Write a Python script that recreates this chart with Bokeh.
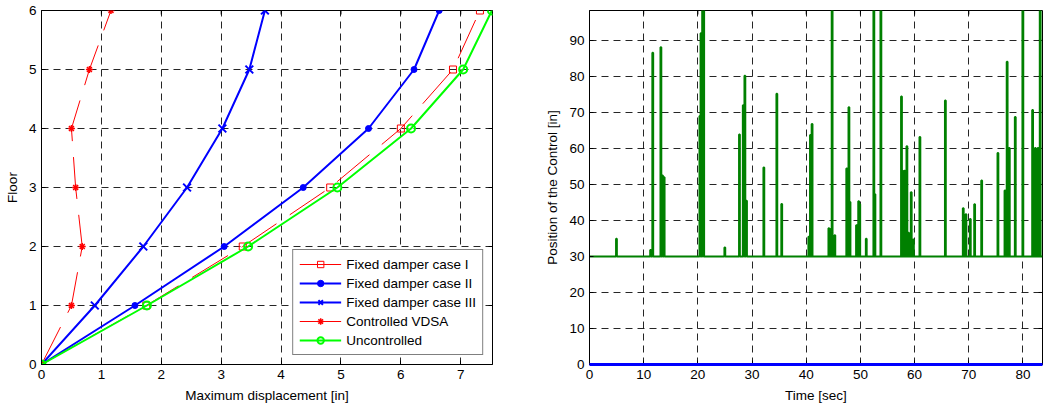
import math
from bokeh.plotting import figure
from bokeh.layouts import row
from bokeh.models import Range1d, FixedTicker, Legend, LegendItem
from bokeh.embed import file_html
from bokeh.resources import INLINE

# ---------------- data: left panel (max displacement per floor) ----------------
floors = [0, 1, 2, 3, 4, 5, 6]
case1 = [0, 1.75, 3.36, 4.82, 6.00, 6.87, 7.32]
case2 = [0, 1.56, 3.05, 4.37, 5.46, 6.22, 6.64]
case3 = [0, 0.89, 1.70, 2.43, 3.02, 3.47, 3.73]
vdsa = [0, 0.50, 0.68, 0.57, 0.50, 0.80, 1.16]
uncontrolled = [0, 1.76, 3.45, 4.94, 6.17, 7.04, 7.52]
left_xticks = [0, 1, 2, 3, 4, 5, 6, 7]
left_yticks = [0, 1, 2, 3, 4, 5, 6]

# ---------------- data: right panel (control position vs time) ----------------
spike_times = [4.9, 11.2, 11.6, 13.1, 13.4, 13.7, 20.3, 20.5, 20.8, 21.0, 24.9,
               27.6, 28.3, 28.6, 28.9, 32.1, 34.5, 35.4, 40.4, 40.7, 41.0, 44.1,
               44.3, 44.7, 45.2, 47.4, 47.8, 48.0, 49.2, 49.6, 49.8, 51.0, 52.4,
               52.6, 53.7, 57.5, 57.7, 58.1, 58.5, 58.8, 59.3, 59.7, 60.9, 65.6,
               68.9, 69.4, 70.2, 71.0, 72.3, 75.3, 76.6, 77.0, 77.4, 78.5, 79.9,
               81.7, 82.2, 82.7, 83.1]
spike_heights = [34.9, 31.8, 86.6, 88.1, 52.5, 52.0, 69.0, 92.0, 100, 100, 32.5,
                 63.9, 72.0, 80.2, 45.5, 54.7, 75.2, 44.6, 35.5, 63.7, 66.8, 37.8,
                 37.6, 100, 35.9, 54.4, 71.4, 45.1, 38.7, 45.3, 44.5, 34.9, 100,
                 47.3, 100, 74.4, 53.8, 53.8, 60.6, 36.6, 47.8, 34.7, 63.2, 73.3,
                 43.4, 41.7, 40.4, 44.5, 51.1, 58.7, 48.3, 84.1, 60.1, 68.7, 100,
                 70.7, 60.1, 60.1, 100]
baseline_level = 30
passive_level = 0
t_end = 83.6
right_xticks = [0, 10, 20, 30, 40, 50, 60, 70, 80]
right_yticks = [0, 10, 20, 30, 40, 50, 60, 70, 80, 90]

FONT = "Liberation Sans"
FS = "13.5px"


def style(p, xt, yt, xmax, ymax, xlabel, ylabel):
    xa = p.below[0]
    ya = p.left[0]
    xa.axis_label = xlabel
    ya.axis_label = ylabel
    for ax in (xa, ya):
        ax.major_tick_in = 4
        ax.major_tick_out = 0
        ax.minor_tick_line_color = None
        ax.axis_line_color = "black"
        ax.major_tick_line_color = "black"
        ax.major_label_text_font = FONT
        ax.major_label_text_font_size = FS
        ax.major_label_text_color = "black"
        ax.axis_label_text_font = FONT
        ax.axis_label_text_font_size = FS
        ax.axis_label_text_font_style = "normal"
        ax.axis_label_text_color = "black"
        ax.axis_label_standoff = 6
    xa.ticker = FixedTicker(ticks=xt)
    ya.ticker = FixedTicker(ticks=yt)
    p.xgrid.ticker = FixedTicker(ticks=xt)
    p.ygrid.ticker = FixedTicker(ticks=yt)
    for g in (p.xgrid[0], p.ygrid[0]):
        g.grid_line_color = "black"
        g.grid_line_alpha = 0.85
        g.grid_line_dash = "7 5"
        g.grid_line_width = 1
    # box ticks on top / right edges (inward, half clipped by frame)
    p.scatter(xt, [ymax] * len(xt), marker="dash", angle=math.pi / 2, size=8,
              line_color="black", line_width=1)
    p.scatter([xmax] * len(yt), yt, marker="dash", size=8,
              line_color="black", line_width=1)
    p.outline_line_color = "black"
    p.background_fill_color = "white"
    p.border_fill_color = "white"


# ---------------- left figure ----------------
LX_MAX, LY_MAX = 7.53, 6
p1 = figure(width=540, height=405, x_range=Range1d(0, LX_MAX), y_range=Range1d(0, LY_MAX),
            min_border_left=41, min_border_right=48, min_border_top=10, min_border_bottom=39,
            output_backend="svg", toolbar_location=None)
style(p1, left_xticks, left_yticks, LX_MAX, LY_MAX, "Maximum displacement [in]", "Floor")

l1 = p1.line(case1, floors, line_color="#ff0000", line_width=1, line_dash="42 16")
m1 = p1.scatter(case1, floors, marker="square", size=7, line_color="#ff0000",
                fill_color=None, line_width=1)
l2 = p1.line(case2, floors, line_color="#0000ff", line_width=2)
m2 = p1.scatter(case2, floors, marker="circle", size=6, line_color="#0000ff",
                fill_color="#0000ff")
l3 = p1.line(case3, floors, line_color="#0000ff", line_width=2)
m3 = p1.scatter(case3, floors, marker="x", size=11, line_color="#0000ff", line_width=2)
l4 = p1.line(vdsa, floors, line_color="#ff0000", line_width=1, line_dash="42 16")
m4 = p1.scatter(vdsa, floors, marker="asterisk", size=7, line_color="#ff0000", line_width=1.5)
l5 = p1.line(uncontrolled, floors, line_color="#00ff00", line_width=2)
m5 = p1.scatter(uncontrolled, floors, marker="circle", size=8, line_color="#00ff00",
                fill_color=None, line_width=2)

legend = Legend(items=[
    LegendItem(label="Fixed damper case I", renderers=[l1, m1]),
    LegendItem(label="Fixed damper case II", renderers=[l2, m2]),
    LegendItem(label="Fixed damper case III", renderers=[l3, m3]),
    LegendItem(label="Controlled VDSA", renderers=[l4, m4]),
    LegendItem(label="Uncontrolled", renderers=[l5, m5]),
], location="bottom_right")
legend.margin = 9
legend.padding = 6
legend.spacing = 3
legend.label_height = 16
legend.glyph_width = 42
legend.glyph_height = 16
legend.label_standoff = 5
legend.label_text_font = FONT
legend.label_text_font_size = FS
legend.label_text_color = "black"
legend.border_line_color = "black"
legend.border_line_width = 1.5
legend.background_fill_color = "white"
legend.background_fill_alpha = 1
p1.add_layout(legend, "center")

# ---------------- right figure ----------------
RX_MAX, RY_MAX = t_end, 98.3
p2 = figure(width=504, height=405, x_range=Range1d(0, RX_MAX), y_range=Range1d(0, RY_MAX),
            min_border_left=49, min_border_right=2, min_border_top=7, min_border_bottom=41,
            output_backend="svg", toolbar_location=None)
style(p2, right_xticks, right_yticks, RX_MAX, RY_MAX, "Time [sec]", "Position of the Control [in]")

# build the control-position signal from the read spikes (baseline + narrow pulses)
xs = [0]
ys = [baseline_level]
pulse = 0.15
for t, h in zip(spike_times, spike_heights):
    xs += [t, t, t + pulse, t + pulse]
    ys += [baseline_level, h, h, baseline_level]
xs.append(t_end)
ys.append(baseline_level)

p2.line(xs, ys, line_color="#008000", line_width=2)
p2.line([0, t_end], [passive_level, passive_level], line_color="#0000ff", line_width=3,
        level="overlay")

layout = row(p1, p2)
open("out.html", "w").write(file_html(layout, INLINE))
